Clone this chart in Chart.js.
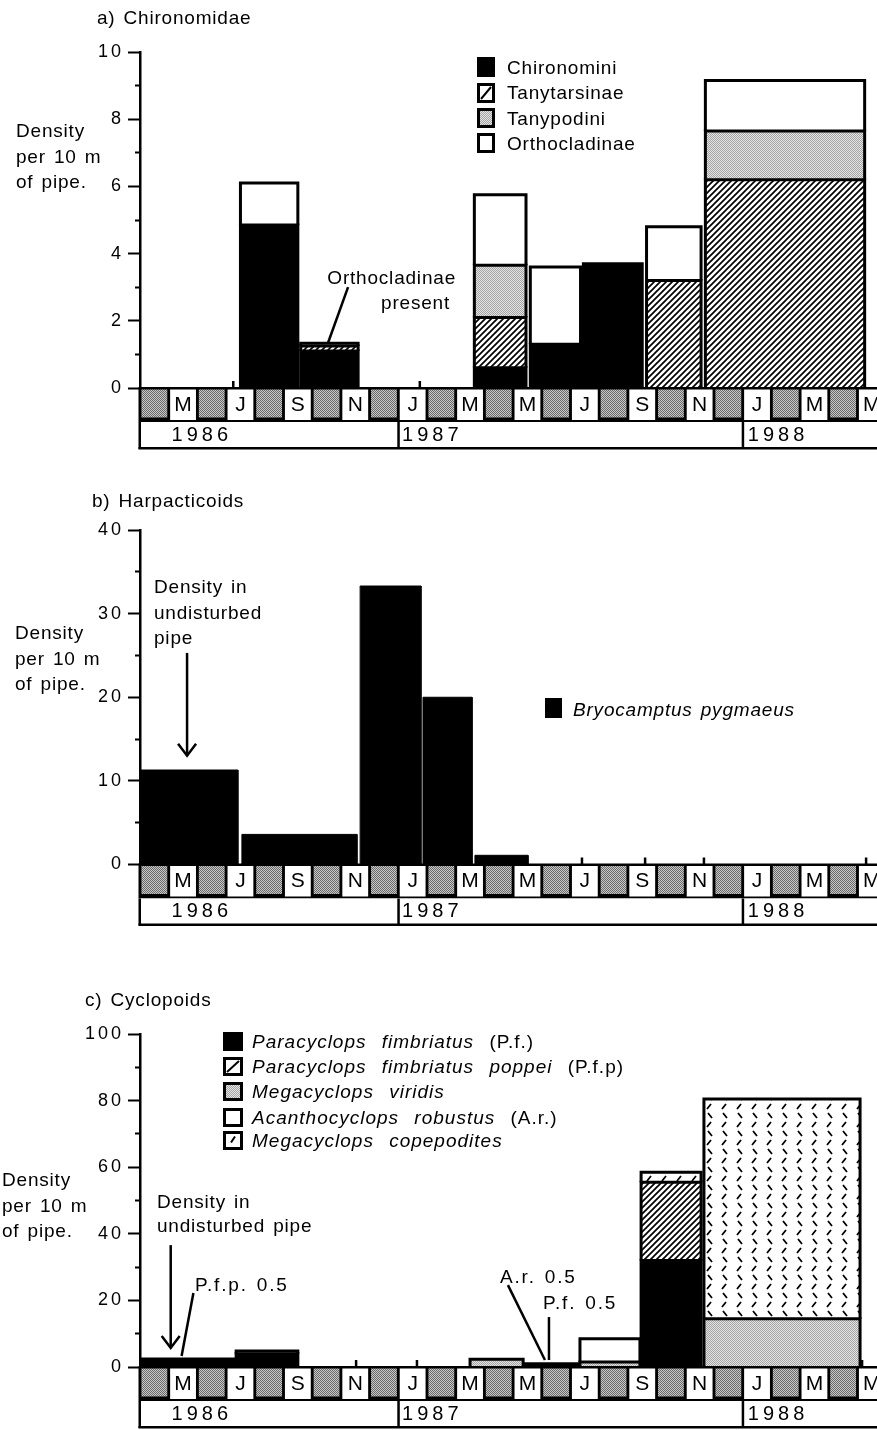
<!DOCTYPE html>
<html lang="en">
<head>
<meta charset="UTF-8">
<title>Chironomidae, Harpacticoids and Cyclopoids</title>
<script src="https://cdn.jsdelivr.net/npm/chart.js@4.4.1/dist/chart.umd.min.js"></script>
<style>
  body { margin: 0; background: #fff; }
  #page { position: relative; width: 877px; height: 1430px; overflow: hidden;
          font-family: 'Liberation Sans', Arial, Helvetica, sans-serif; color: #000; }
  .chart { position: absolute; left: 0; }
  .txt { position: absolute; font-size: 19px; line-height: 25px; letter-spacing: .8px;
         word-spacing: 2px; white-space: nowrap; }
  .ab { letter-spacing: 1.8px; }
  .it { font-style: italic; }
  .wide { word-spacing: 9px; letter-spacing: 1px; }
  .sw { position: absolute; }
</style>
</head>
<body>
<div id="page">
  <canvas id="chartA" class="chart" width="877" height="452" style="top:0"></canvas>
  <canvas id="chartB" class="chart" width="877" height="460" style="top:470px"></canvas>
  <canvas id="chartC" class="chart" width="877" height="480" style="top:950px"></canvas>

  <div class="txt" style="left:97px; top:5px">a) Chironomidae</div>
  <div class="txt" style="left:16px; top:118px; line-height:25.5px">Density<br>per 10 m<br>of pipe.</div>
  <div class="txt" style="right:421px; top:265px; text-align:right">Orthocladinae</div>
  <div class="txt" style="right:427px; top:290px; text-align:right">present</div>

  <div class="txt" style="left:92px; top:488px">b) Harpacticoids</div>
  <div class="txt" style="left:15px; top:620px; line-height:25.5px">Density<br>per 10 m<br>of pipe.</div>
  <div class="txt" style="left:154px; top:574px; line-height:25.5px">Density in<br>undisturbed<br>pipe</div>

  <div class="txt" style="left:85px; top:987px">c) Cyclopoids</div>
  <div class="txt" style="left:2px; top:1167px; line-height:25.5px">Density<br>per 10 m<br>of pipe.</div>
  <div class="txt" style="left:157px; top:1190px; line-height:24px">Density in<br>undisturbed pipe</div>
  <div class="txt ab" style="left:195px; top:1272px">P.f.p. 0.5</div>
  <div class="txt ab" style="left:500px; top:1264px">A.r. 0.5</div>
  <div class="txt ab" style="left:543px; top:1290px">P.f. 0.5</div>
</div>

<script>
// months from April 1986 to May 1988, only the odd months carry a letter
const months = ['', 'M', '', 'J', '', 'S', '', 'N', '', 'J', '', 'M', '', 'M', '', 'J', '', 'S', '', 'N', '', 'J', '', 'M', '', 'M'];
const years = ['1986', '1987', '1988'];
const yearStart = [0, 9, 21];
const yearLabelAt = [1.1, 9.13, 21.18];
const monthSpan = 25.68;

// a) Chironomidae
const chiroNames = ['Chironomini', 'Tanytarsinae', 'Tanypodini', 'Orthocladinae'];
const chiroFrom = [3.5, 5.6, 11.65, 13.6, 15.45, 17.65, 19.7];
const chiroTo = [5.5, 7.6, 13.45, 15.35, 17.5, 19.55, 25.25];
const chironomini = [4.85, 1.1, 0.6, 1.3, 3.7, 0, 0];
const tanytarsinae = [0, 0.15, 1.5, 0, 0, 3.2, 6.2];
const tanypodini = [0, 0, 1.55, 0, 0, 0, 1.45];
const orthocladinae = [1.25, 0.08, 2.1, 2.3, 0, 1.6, 1.5];
const chiroZero = [3.25, 9.75];
const chiroTicks = [0, 2, 4, 6, 8, 10];
const chiroMinor = [1, 3, 5, 7, 9];

// b) Harpacticoids
const harpNames = ['Bryocamptus pygmaeus'];
const harpFrom = [0, 3.55, 7.67, 9.86, 11.67];
const harpTo = [3.41, 7.56, 9.79, 11.57, 13.52];
const bryocamptus = [11.3, 3.6, 33.3, 20.0, 1.1];
const harpZero = [15.4, 17.6, 19.65, 25.3];
const harpTicks = [0, 10, 20, 30, 40];
const harpMinor = [5, 15, 25, 35];

// c) Cyclopoids
const cycNames = ['Paracyclops fimbriatus', 'Paracyclops fimbriatus poppei', 'Megacyclops viridis', 'Acanthocyclops robustus', 'Megacyclops copepodites'];
const cycAbbr = ['(P.f.)', '(P.f.p)', '', '(A.r.)', ''];
const cycFrom = [0, 3.35, 11.5, 13.4, 15.33, 17.46, 19.65];
const cycTo = [3.28, 5.5, 13.35, 15.26, 17.42, 19.55, 25.09];
const pf = [1.9, 4.0, 0, 0.5, 0, 32, 0];
const pfp = [0.5, 0, 0, 0, 0, 23.5, 0];
const mViridis = [0, 0, 2.3, 0, 1.5, 0, 14.5];
const ar = [0, 0.8, 0, 0.5, 7, 0, 0];
const mCopepodites = [0, 0, 0, 0, 0, 3, 66];
const cycZero = [7.53, 9.65, 25.16];
const cycTicks = [0, 20, 40, 60, 80, 100];
const cycMinor = [10, 30, 50, 70, 90];

const FONT = "'Liberation Sans', Arial, Helvetica, sans-serif";

// fill patterns
function tile(w, h, paint) {
  const c = document.createElement('canvas');
  c.width = w; c.height = h;
  paint(c.getContext('2d'), w, h);
  return c;
}
function checker(a, b) {
  return tile(2, 2, (g) => {
    g.fillStyle = a; g.fillRect(0, 0, 2, 2);
    g.fillStyle = b; g.fillRect(0, 0, 1, 1); g.fillRect(1, 1, 1, 1);
  });
}
const pctx = document.createElement('canvas').getContext('2d');
const pat = {
  hatch: pctx.createPattern(tile(6, 6, (g) => {
    g.fillStyle = '#fff'; g.fillRect(0, 0, 6, 6);
    g.strokeStyle = '#000'; g.lineWidth = 1.7;
    g.beginPath();
    g.moveTo(-1, 7); g.lineTo(7, -1);
    g.moveTo(-1, 1); g.lineTo(1, -1);
    g.moveTo(5, 7); g.lineTo(7, 5);
    g.stroke();
  }), 'repeat'),
  grey: pctx.createPattern(checker('#e4e4e4', '#a4a4a4'), 'repeat'),
  month: pctx.createPattern(checker('#c8c8c8', '#6a6a6a'), 'repeat'),
  cop: pctx.createPattern(tile(15, 18, (g) => {
    g.fillStyle = '#fff'; g.fillRect(0, 0, 15, 18);
    g.strokeStyle = '#000'; g.lineWidth = 1.8;
    g.beginPath();
    g.moveTo(3, 1); g.lineTo(7, 6);
    g.moveTo(2, 15); g.lineTo(6, 10);
    g.stroke();
  }), 'repeat')
};
const fillOf = { black: '#000', hatch: pat.hatch, grey: pat.grey, white: '#fff', cop: pat.cop };

// one closed block per stacked segment, drawn as a filled line through the scales
function blocks(from, to, series, kinds, border) {
  const base = from.map(() => 0);
  const sets = [];
  series.forEach((vals, k) => vals.forEach((v, i) => {
    if (!v) return;
    const lo = base[i], hi = lo + v;
    base[i] = hi;
    sets.push({
      label: k,
      data: [{x: from[i], y: lo}, {x: from[i], y: hi}, {x: to[i], y: hi}, {x: to[i], y: lo}],
      backgroundColor: fillOf[kinds[k]],
      fill: {value: lo},
      borderColor: '#000',
      borderWidth: border,
      borderJoinStyle: 'miter',
      pointRadius: 0
    });
  }));
  return sets;
}

function zeroMarks(xs) {
  return {
    data: xs.map(x => ({x, y: 0})),
    showLine: false,
    pointStyle: 'line',
    pointRotation: 90,
    pointRadius: 7,
    pointBorderWidth: 2.5,
    pointBorderColor: '#000'
  };
}

// leader lines, arrows and the month / year strip under the axis
function decor(notes) {
  return {
    id: 'decor',
    beforeDraw(chart) { chart.ctx.letterSpacing = '3px'; },
    afterDraw(chart) {
      const {ctx, chartArea: area, scales: {x, y}} = chart;
      ctx.save();
      ctx.letterSpacing = '0px';
      ctx.strokeStyle = '#000';
      ctx.lineWidth = 2.5;
      notes.forEach(n => {
        const x1 = x.getPixelForValue(n.from[0]), y1 = y.getPixelForValue(n.from[1]);
        const x2 = x.getPixelForValue(n.to[0]), y2 = y.getPixelForValue(n.to[1]);
        ctx.beginPath(); ctx.moveTo(x1, y1); ctx.lineTo(x2, y2); ctx.stroke();
        if (n.arrow) {
          ctx.beginPath();
          ctx.moveTo(x2 - 9, y2 - 12); ctx.lineTo(x2, y2); ctx.lineTo(x2 + 9, y2 - 12);
          ctx.stroke();
        }
      });

      const B = area.bottom, L = area.left, R = chart.width;
      ctx.fillStyle = '#000';
      ctx.fillRect(L - 1.5, B - 1, R - L + 1.5, 35);
      ctx.font = '21px ' + FONT;
      ctx.textAlign = 'center';
      ctx.textBaseline = 'middle';
      months.forEach((m, i) => {
        const x0 = x.getPixelForValue(i + 0.05), x1 = x.getPixelForValue(i + 0.95);
        if (m) {
          ctx.fillStyle = '#fff';
          ctx.fillRect(x0, B + 1.5, x1 - x0, 30.5);
          ctx.fillStyle = '#000';
          ctx.fillText(m, (x0 + x1) / 2, B + 17);
        } else {
          ctx.fillStyle = pat.month;
          ctx.fillRect(x0, B + 1.5, x1 - x0, 28);
        }
      });
      ctx.fillStyle = '#fff';
      ctx.fillRect(L, B + 34, R - L, 25);
      ctx.fillStyle = '#000';
      ctx.fillRect(L - 1.5, B + 34, 2.5, 27);
      ctx.fillRect(L - 1.5, B + 59, R - L + 1.5, 2.5);
      yearStart.slice(1).forEach(m => ctx.fillRect(x.getPixelForValue(m) - 1, B + 34, 2.5, 27));
      ctx.font = '20px ' + FONT;
      ctx.letterSpacing = '4px';
      ctx.textAlign = 'left';
      years.forEach((yr, i) => ctx.fillText(yr, x.getPixelForValue(yearLabelAt[i]), B + 47));
      ctx.restore();
    }
  };
}

function panel(id, datasets, ticks, minor, yMax, pad, notes) {
  const all = ticks.concat(minor).sort((a, b) => a - b);
  return new Chart(document.getElementById(id), {
    type: 'line',
    data: { datasets },
    options: {
      responsive: false,
      animation: false,
      events: [],
      layout: { autoPadding: false, padding: { top: pad[0], bottom: pad[1], left: 0, right: 0 } },
      plugins: {
        legend: { display: false },
        tooltip: { enabled: false },
        filler: { drawTime: 'beforeDatasetsDraw' }
      },
      scales: {
        x: {
          type: 'linear', min: 0, max: monthSpan,
          grid: { display: false, drawTicks: false },
          ticks: { display: false },
          border: { color: '#000', width: 2 }
        },
        y: {
          min: 0, max: yMax,
          afterFit: (s) => { s.width = 140; },
          afterBuildTicks: (s) => { s.ticks = all.map(v => ({value: v})); },
          grid: {
            drawOnChartArea: false, tickLength: 12, tickColor: '#000', tickWidth: 2,
            tickBorderDash: (c) => (c.tick && minor.includes(c.tick.value)) ? [0, 7, 6, 40] : []
          },
          border: { color: '#000', width: 2.5 },
          ticks: {
            autoSkip: false, color: '#000', padding: 4,
            font: { family: FONT, size: 18 },
            callback: (v) => ticks.includes(v) ? String(v) : ''
          }
        }
      }
    },
    plugins: [decor(notes)]
  });
}

const chiroKinds = ['black', 'hatch', 'grey', 'white'];
const harpKinds = ['black'];
const cycKinds = ['black', 'hatch', 'grey', 'white', 'cop'];

panel('chartA',
  blocks(chiroFrom, chiroTo, [chironomini, tanytarsinae, tanypodini, orthocladinae], chiroKinds, 3).concat([zeroMarks(chiroZero)]),
  chiroTicks, chiroMinor, 10, [52, 64],
  [{from: [7.25, 3.0], to: [6.55, 1.34]}]);

panel('chartB',
  blocks(harpFrom, harpTo, [bryocamptus], harpKinds, 1).concat([zeroMarks(harpZero)]),
  harpTicks, harpMinor, 40, [60, 65.5],
  [{from: [1.64, 25.3], to: [1.64, 13.0], arrow: true}]);

panel('chartC',
  blocks(cycFrom, cycTo, [pf, pfp, mViridis, ar, mCopepodites], cycKinds, 3).concat([zeroMarks(cycZero)]),
  cycTicks, cycMinor, 100, [84, 63],
  [{from: [1.07, 36.6], to: [1.07, 5.7], arrow: true},
   {from: [1.86, 22.2], to: [1.45, 3.3]},
   {from: [12.82, 24.6], to: [14.11, 2.1]},
   {from: [14.25, 15.0], to: [14.25, 2.1]}]);

// legends
const page = document.getElementById('page');
function swatch(left, top, w, h, kind) {
  const c = document.createElement('canvas');
  c.width = w; c.height = h;
  c.className = 'sw';
  c.style.left = left + 'px';
  c.style.top = top + 'px';
  const g = c.getContext('2d');
  g.fillStyle = kind === 'black' ? '#000' : kind === 'grey' ? pat.grey : '#fff';
  g.fillRect(0, 0, w, h);
  g.strokeStyle = '#000';
  g.lineWidth = 3;
  g.strokeRect(1.5, 1.5, w - 3, h - 3);
  g.lineWidth = 2;
  if (kind === 'hatch') {
    g.beginPath(); g.moveTo(4, h - 4); g.lineTo(w - 4, 4); g.stroke();
  } else if (kind === 'cop') {
    g.beginPath(); g.moveTo(w / 2 - 2, h / 2 + 2); g.lineTo(w / 2 + 2, h / 2 - 4); g.stroke();
  }
  page.appendChild(c);
}
function label(left, centre, html, cls) {
  const d = document.createElement('div');
  d.className = 'txt ' + (cls || '');
  d.style.left = left + 'px';
  d.style.top = (centre - 12.5) + 'px';
  d.innerHTML = html;
  page.appendChild(d);
}

const chiroLegendY = [67, 92.5, 118, 143];
chiroNames.forEach((n, i) => {
  swatch(477, chiroLegendY[i] - 10, 18, 20, chiroKinds[i]);
  label(507, chiroLegendY[i], n);
});

swatch(545, 698, 17, 20, 'black');
label(573, 709, harpNames[0], 'it');

const cycLegendY = [1041, 1066, 1091, 1117, 1140];
cycNames.forEach((n, i) => {
  swatch(223, cycLegendY[i] - 9.5, 20, 19, cycKinds[i]);
  label(252, cycLegendY[i], '<span class="it">' + n + '</span>' + (cycAbbr[i] ? ' ' + cycAbbr[i] : ''), 'wide');
});
</script>
</body>
</html>
